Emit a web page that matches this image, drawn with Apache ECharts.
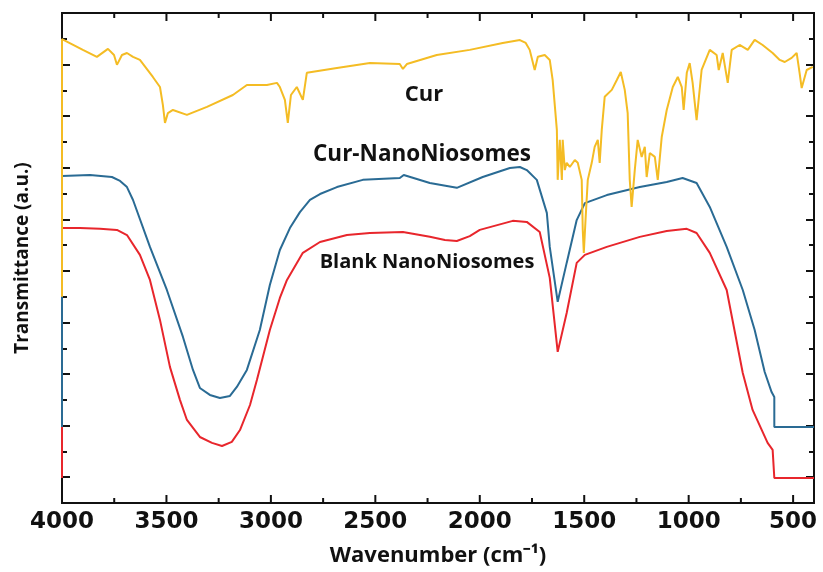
<!DOCTYPE html>
<html>
<head>
<meta charset="utf-8">
<script src="https://cdn.jsdelivr.net/npm/echarts@6/dist/echarts.min.js"></script>
<style>
  html, body { margin: 0; padding: 0; background: #fff; }
  #chart { width: 823px; height: 572px; }
</style>
</head>
<body>
<div id="chart"></div>
<script>
// FTIR spectra, [wavenumber (cm-1), transmittance (a.u.)]
var blankNano = [
  [4000, 0.97], [4000, 10.66], [3914, 10.66], [3818, 10.63], [3737, 10.59], [3689, 10.39],
  [3627, 9.62], [3579, 8.65], [3531, 7.10], [3483, 5.27], [3435, 3.99], [3402, 3.22],
  [3340, 2.56], [3282, 2.33], [3234, 2.21], [3187, 2.37], [3148, 2.83], [3100, 3.80],
  [3067, 4.77], [3005, 6.71], [2957, 7.95], [2923, 8.65], [2847, 9.70], [2765, 10.12],
  [2636, 10.39], [2526, 10.47], [2368, 10.51], [2239, 10.32], [2167, 10.20], [2110, 10.16],
  [2048, 10.35], [2000, 10.59], [1842, 10.94], [1775, 10.90], [1713, 10.51], [1665, 8.73],
  [1627, 5.86], [1584, 7.37], [1536, 9.31], [1497, 9.62], [1392, 9.93], [1234, 10.32],
  [1105, 10.55], [1009, 10.63], [962, 10.47], [899, 9.70], [818, 8.26], [741, 5.04],
  [694, 3.61], [622, 2.33], [598, 2.06], [590, 2.02], [590, 0.97], [400, 0.97]
];

var curNano = [
  [4000, 2.95], [4000, 12.68], [3866, 12.72], [3761, 12.64], [3722, 12.49], [3689, 12.25],
  [3660, 11.75], [3579, 9.93], [3498, 8.26], [3421, 6.44], [3373, 5.16], [3340, 4.46],
  [3292, 4.19], [3244, 4.07], [3196, 4.15], [3163, 4.50], [3115, 5.16], [3053, 6.71],
  [3005, 8.45], [2957, 9.81], [2909, 10.66], [2861, 11.28], [2813, 11.75], [2765, 11.98],
  [2684, 12.25], [2560, 12.53], [2383, 12.60], [2364, 12.72], [2239, 12.41], [2110, 12.22],
  [1986, 12.64], [1856, 12.99], [1808, 13.03], [1775, 12.91], [1727, 12.53], [1679, 11.25],
  [1665, 9.93], [1627, 7.80], [1584, 9.31], [1536, 10.97], [1497, 11.63], [1392, 11.94],
  [1234, 12.25], [1105, 12.45], [1029, 12.60], [962, 12.41], [899, 11.48], [818, 9.93],
  [741, 8.26], [684, 6.71], [636, 5.08], [603, 4.30], [590, 4.11], [590, 2.95], [400, 2.95]
];

var cur = [
  [4000, 8.0], [4000, 17.99], [3900, 17.57], [3833, 17.30], [3780, 17.61], [3751, 17.37],
  [3737, 16.99], [3713, 17.37], [3689, 17.45], [3660, 17.30], [3627, 17.18], [3565, 16.52],
  [3531, 16.13], [3517, 15.43], [3507, 14.74], [3493, 15.12], [3469, 15.24], [3402, 15.05],
  [3306, 15.36], [3182, 15.82], [3115, 16.21], [3019, 16.21], [2971, 16.29], [2957, 16.13],
  [2933, 15.63], [2919, 14.74], [2904, 15.82], [2876, 16.13], [2847, 15.63], [2828, 16.68],
  [2684, 16.87], [2526, 17.06], [2383, 17.02], [2368, 16.83], [2349, 17.02], [2206, 17.37],
  [2048, 17.57], [1890, 17.84], [1808, 17.95], [1780, 17.84], [1761, 17.57], [1737, 16.79],
  [1722, 17.30], [1689, 17.37], [1665, 17.18], [1651, 16.40], [1631, 14.47], [1627, 12.53],
  [1617, 14.08], [1607, 12.53], [1603, 14.08], [1593, 12.91], [1584, 13.19], [1569, 13.03],
  [1545, 13.30], [1531, 13.19], [1512, 12.53], [1507, 10.59], [1502, 9.70], [1493, 11.09],
  [1483, 12.53], [1464, 13.19], [1450, 13.81], [1435, 14.08], [1426, 13.19], [1416, 14.47],
  [1402, 15.75], [1368, 16.02], [1344, 16.40], [1325, 16.71], [1306, 16.02], [1292, 15.12],
  [1282, 12.53], [1273, 11.48], [1258, 12.91], [1244, 14.08], [1225, 13.42], [1210, 13.81],
  [1201, 12.64], [1186, 13.57], [1162, 13.42], [1148, 12.53], [1129, 14.19], [1105, 15.24],
  [1076, 16.13], [1052, 16.52], [1033, 16.13], [1024, 15.24], [1009, 16.68], [995, 17.06],
  [981, 16.29], [962, 14.85], [938, 16.79], [899, 17.57], [866, 17.37], [856, 16.79],
  [837, 17.45], [813, 16.29], [794, 17.57], [756, 17.76], [717, 17.57], [684, 17.96],
  [646, 17.76], [598, 17.45], [564, 17.18], [540, 17.10], [507, 17.26], [483, 17.45],
  [469, 16.68], [459, 16.09], [435, 16.79], [406, 16.91]
];

var xMajorTicks = [500, 1000, 1500, 2000, 2500, 3000, 3500, 4000];
var xMinorTicks = [750, 1250, 1750, 2250, 2750, 3250, 3750];
var yMajorTicks = [1, 3, 5, 7, 9, 11, 13, 15, 17];
var yMinorTicks = [2, 4, 6, 8, 10, 12, 14, 16, 18];

// drawing order: blank first, curcumin spectrum on top
var seriesColors = ['#e8262c', '#2a6b94', '#f4bc24'];
var annotations = [
    { text: 'Cur', x: 424, y: 95, size: 22 },
    { text: 'Cur-NanoNiosomes', x: 422, y: 155, size: 22.5 },
    { text: 'Blank NanoNiosomes', x: 427, y: 262, size: 20 }
];

var chart = echarts.init(document.getElementById('chart'));
var black = '#111';
var Y_MIN = 0, Y_MAX = 19;

function xAx(pos, withLabel) {
    return {
        type: 'value', position: pos, inverse: true, min: 400, max: 4000,
        axisLine: { show: true, onZero: false, lineStyle: { color: black, width: 2 } },
        axisTick: { show: false },
        axisLabel: withLabel ? {
            show: true, customValues: xMajorTicks, margin: 8,
            formatter: function (v) { return String(v); },
            color: black, fontSize: 23, fontWeight: 'bold', fontFamily: 'DejaVu Sans'
        } : { show: false },
        splitLine: { show: false }
    };
}
function yAx(pos, ticks, len) {
    return {
        type: 'value', position: pos, min: Y_MIN, max: Y_MAX,
        axisLine: { show: true, onZero: false, lineStyle: { color: black, width: 2 } },
        axisTick: { show: true, inside: true, length: len, customValues: ticks, lineStyle: { color: black, width: 2 } },
        axisLabel: { show: false },
        splitLine: { show: false }
    };
}

var xAxes = [xAx('bottom', true), xAx('top', false)];
xAxes[0].name = 'Wavenumber (cm⁻¹)';
xAxes[0].nameLocation = 'middle';
xAxes[0].nameGap = 42;
xAxes[0].nameTextStyle = { color: black, fontSize: 22, fontWeight: 'bold', fontFamily: 'Open Sans' };

var yAxes = [yAx('left', yMajorTicks, 8), yAx('right', yMajorTicks, 8),
             yAx('left', yMinorTicks, 5), yAx('right', yMinorTicks, 5)];
yAxes[0].name = 'Transmittance (a.u.)';
yAxes[0].nameLocation = 'middle';
yAxes[0].nameGap = 30;
yAxes[0].nameTextStyle = { color: black, fontSize: 19, fontWeight: 'bold', fontFamily: 'Open Sans' };

var dataSets = [blankNano, curNano, cur];

var lineSeries = dataSets.map(function (d, i) {
    return {
        type: 'line', data: d,
        showSymbol: false,
        lineStyle: { color: seriesColors[i], width: 2 }
    };
});

// wavenumber ticks (bottom + mirrored top), placed through the x scale;
// the built-in x ticks did not render in this setup
var tickItems = xMajorTicks.map(function (v) { return [v, 8]; })
    .concat(xMinorTicks.map(function (v) { return [v, 5]; }));
var tickSeries = {
    type: 'custom', data: tickItems, silent: true, z: 1,
    encode: { x: 0 },
    renderItem: function (params, api) {
        var v = api.value(0), len = api.value(1);
        var b = api.coord([v, Y_MIN]), t = api.coord([v, Y_MAX]);
        var st = { stroke: black, lineWidth: 2 };
        return {
            type: 'group',
            children: [
                { type: 'line', shape: { x1: b[0], y1: b[1], x2: b[0], y2: b[1] - len }, style: st },
                { type: 'line', shape: { x1: t[0], y1: t[1], x2: t[0], y2: t[1] + len }, style: st }
            ]
        };
    }
};

chart.setOption({
    backgroundColor: '#ffffff',
    animation: false,
    // curve labels placed inside the plot
    title: annotations.map(function (a) {
        return {
            text: a.text, left: a.x, top: a.y - a.size / 2, textAlign: 'center', padding: 0,
            textStyle: { color: black, fontSize: a.size, fontWeight: 'bold', fontFamily: 'Open Sans', lineHeight: a.size }
        };
    }),
    grid: { left: 62, right: 9, top: 13, bottom: 69, outerBoundsMode: 'none' },
    xAxis: xAxes,
    yAxis: yAxes,
    series: [tickSeries].concat(lineSeries)
});
</script>
</body>
</html>
